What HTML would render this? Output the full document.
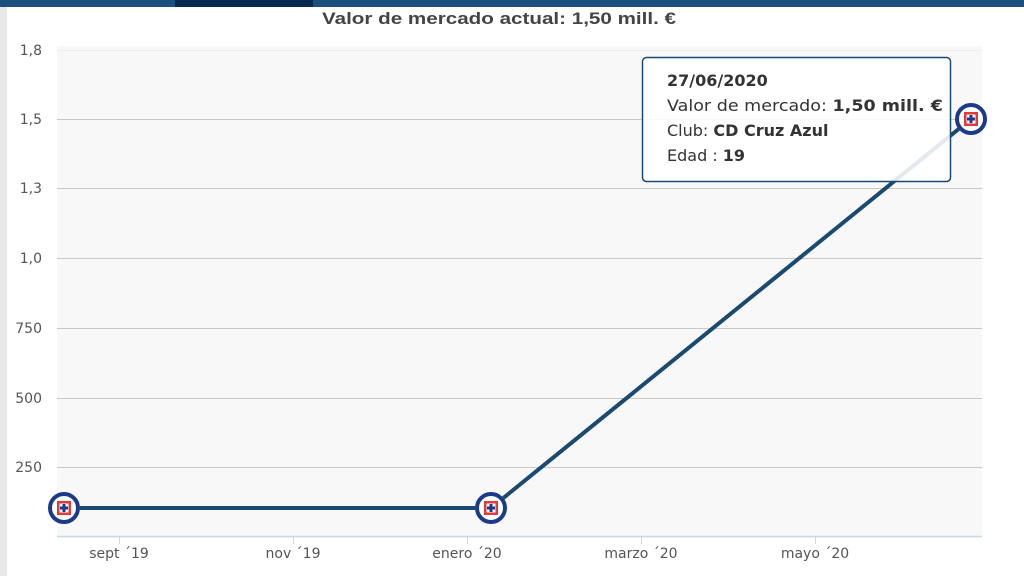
<!DOCTYPE html>
<html><head><meta charset="utf-8"><style>
body{margin:0;width:1024px;height:576px;overflow:hidden;background:#fff;font-family:"DejaVu Sans","Liberation Sans",sans-serif;}
</style></head><body>
<svg width="1024" height="576" xmlns="http://www.w3.org/2000/svg" style="position:absolute;left:0;top:0">
<defs>
<g id="logo">
<circle r="16" fill="#fff"/>
<circle r="14" fill="none" stroke="#1b3a8a" stroke-width="4"/>
<rect x="-7" y="-7" width="14" height="14" fill="#e23a3a"/>
<rect x="-4.5" y="-4.5" width="9" height="9" fill="#fff"/>
<rect x="-1.5" y="-4" width="3" height="8" fill="#1b3a8a"/>
<rect x="-4" y="-1.5" width="8" height="3" fill="#1b3a8a"/>
</g>
</defs>
<rect x="0" y="0" width="1024" height="7" fill="#1b4f7e"/>
<rect x="175" y="0" width="138" height="7" fill="#06294f"/>
<rect x="0" y="7" width="7" height="569" fill="#e8e8e8"/>
<text x="322" y="24" textLength="354" lengthAdjust="spacingAndGlyphs" font-family="Liberation Sans, sans-serif" font-weight="bold" font-size="17" fill="#444">Valor de mercado actual: 1,50 mill. €</text>
<rect x="57" y="46" width="925" height="490" fill="#f8f8f8"/>
<g stroke="#c8c8c8" stroke-width="1">
<line x1="57" y1="50.5" x2="982" y2="50.5" stroke="#eee"/>
<line x1="57" y1="119.5" x2="982" y2="119.5"/>
<line x1="57" y1="188.5" x2="982" y2="188.5"/>
<line x1="57" y1="258.5" x2="982" y2="258.5"/>
<line x1="57" y1="328.5" x2="982" y2="328.5"/>
<line x1="57" y1="398.5" x2="982" y2="398.5"/>
<line x1="57" y1="467.5" x2="982" y2="467.5"/>
</g>
<line x1="57" y1="536.5" x2="982" y2="536.5" stroke="#c6d8e6" stroke-width="1.5"/>
<g stroke="#c6d8e6" stroke-width="1">
<line x1="119.5" y1="536" x2="119.5" y2="544"/><line x1="293.5" y1="536" x2="293.5" y2="544"/>
<line x1="467.5" y1="536" x2="467.5" y2="544"/><line x1="641.5" y1="536" x2="641.5" y2="544"/>
<line x1="815.5" y1="536" x2="815.5" y2="544"/>
</g>
<g font-size="14" fill="#555" text-anchor="end">
<text x="42" y="55">1,8</text><text x="42" y="124">1,5</text><text x="42" y="193">1,3</text>
<text x="42" y="263">1,0</text><text x="42" y="333">750</text><text x="42" y="403">500</text><text x="42" y="472">250</text>
</g>
<g font-size="14" fill="#555" text-anchor="middle">
<text x="119" y="558">sept ´19</text><text x="293" y="558">nov ´19</text><text x="467" y="558">enero ´20</text>
<text x="641" y="558">marzo ´20</text><text x="815" y="558">mayo ´20</text>
</g>
<polyline points="64,508 491,508 971,119" fill="none" stroke="#1b4a70" stroke-width="4"/>
<use href="#logo" x="64" y="508"/>
<use href="#logo" x="491" y="508"/>
<use href="#logo" x="971" y="119"/>
<rect x="642.5" y="57.5" width="308" height="124" rx="4" fill="#fff" fill-opacity="0.88" stroke="#1b4a70" stroke-width="1.5"/>
<g font-size="16" fill="#333">
<text x="667" y="86" font-weight="bold">27/06/2020</text>
<text x="667" y="111" textLength="276" lengthAdjust="spacingAndGlyphs">Valor de mercado: <tspan font-weight="bold">1,50 mill. €</tspan></text>
<text x="667" y="136">Club: <tspan font-weight="bold">CD Cruz Azul</tspan></text>
<text x="667" y="161">Edad : <tspan font-weight="bold">19</tspan></text>
</g>
</svg>
</body></html>
